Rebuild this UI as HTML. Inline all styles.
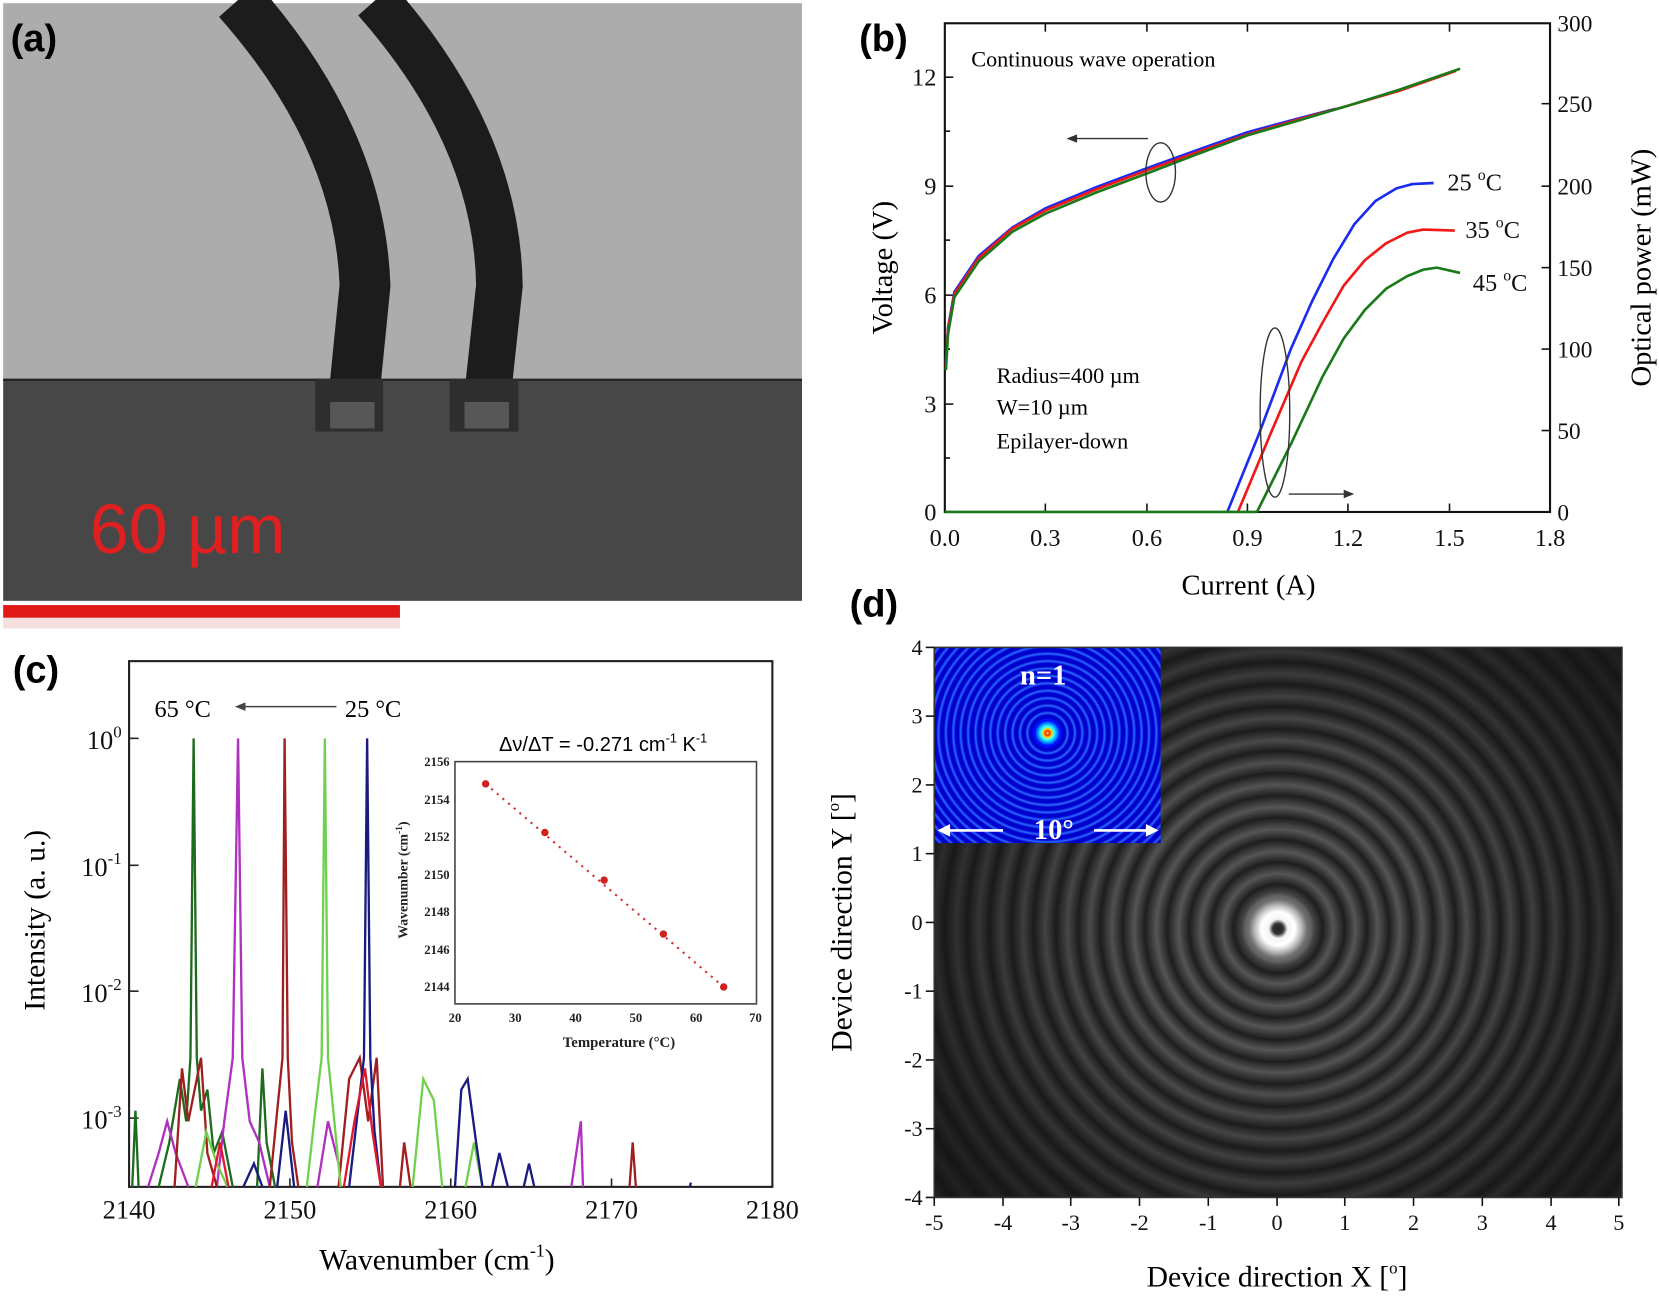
<!DOCTYPE html>
<html><head><meta charset="utf-8"><style>
html,body{margin:0;padding:0;background:#fff;overflow:hidden;width:1659px;height:1299px}
#w{position:absolute;left:0;top:0;width:1568px;height:1228px;transform:scale(1.05804,1.05782);transform-origin:0 0}
.abs{position:absolute}
#rings{left:883px;top:612px;width:650px;height:520px;
background:
radial-gradient(circle at 325px 266px, #222 0, #333 5px, #f4f4f4 9px, #fff 16px, #bbb 22px, #777 27px, rgba(90,90,90,0) 34px),
radial-gradient(ellipse 380px 360px at 325px 266px, rgba(20,20,20,0) 0, rgba(20,20,20,0) 35%, rgba(20,20,20,.8) 100%),
repeating-radial-gradient(circle at 325px 266px, #1e1e1e 0, #555 10px, #1e1e1e 21px);}
#blue{left:883px;top:612px;width:214px;height:185px;
background:
radial-gradient(circle at 107px 81px, #ffff40 0, #ff2000 2px, #ffd000 4px, #40ffff 6px, #00a0ff 9px, #0000ff 12px, rgba(0,0,220,0) 15px),
repeating-radial-gradient(circle at 107px 81px, #0000c8 0, #0000d0 3px, #2a6aff 5px, #0000d0 7px);}
</style></head><body><div id="w">
<svg class="abs" style="left:0;top:0" width="1568" height="1228" viewBox="0 0 1568 1228" font-family="Liberation Serif, serif">
<!-- (a) -->
<rect x="3" y="3" width="755" height="357" fill="#acacac"/>
<rect x="3" y="358" width="755" height="210" fill="#474747"/>
<line x1="3" y1="359" x2="758" y2="359" stroke="#222" stroke-width="2"/>
<path d="M225,0 Q340,130 345,270 L332,400" fill="none" stroke="#1c1c1c" stroke-width="48"/>
<path d="M355,0 Q470,130 472,270 L458,400" fill="none" stroke="#1c1c1c" stroke-width="44"/>
<rect x="298" y="358" width="64" height="50" fill="#2e2e2e"/>
<rect x="425" y="358" width="65" height="50" fill="#2e2e2e"/>
<rect x="312" y="380" width="42" height="25" fill="#6a6a6a" opacity=".7"/>
<rect x="439" y="380" width="42" height="25" fill="#6a6a6a" opacity=".7"/>
<text x="85" y="523" font-family="Liberation Sans, sans-serif" font-size="66" fill="#e02020">60 µm</text>
<rect x="3" y="572" width="375" height="12" fill="#e01818"/>
<rect x="3" y="584" width="375" height="10" fill="#f0c0c0" opacity=".5"/>
<g font-family="Liberation Sans, sans-serif" font-weight="bold" font-size="36">
<text x="10" y="48">(a)</text><text x="812" y="48">(b)</text><text x="12" y="645">(c)</text><text x="803" y="583">(d)</text></g>

<!-- (b) -->
<rect x="893" y="22" width="572" height="462" fill="none" stroke="#111" stroke-width="2"/>
<g stroke="#111" stroke-width="1.5">
<line x1="893" y1="73" x2="901" y2="73"/><line x1="893" y1="176" x2="901" y2="176"/><line x1="893" y1="279" x2="901" y2="279"/><line x1="893" y1="382" x2="901" y2="382"/>
<line x1="893" y1="124" x2="898" y2="124"/><line x1="893" y1="227" x2="898" y2="227"/><line x1="893" y1="330" x2="898" y2="330"/><line x1="893" y1="433" x2="898" y2="433"/>
<line x1="1465" y1="98" x2="1457" y2="98"/><line x1="1465" y1="176" x2="1457" y2="176"/><line x1="1465" y1="253" x2="1457" y2="253"/><line x1="1465" y1="330" x2="1457" y2="330"/><line x1="1465" y1="407" x2="1457" y2="407"/>
<line x1="988" y1="484" x2="988" y2="476"/><line x1="1084" y1="484" x2="1084" y2="476"/><line x1="1179" y1="484" x2="1179" y2="476"/><line x1="1274" y1="484" x2="1274" y2="476"/><line x1="1370" y1="484" x2="1370" y2="476"/>
<line x1="988" y1="22" x2="988" y2="30"/><line x1="1084" y1="22" x2="1084" y2="30"/><line x1="1179" y1="22" x2="1179" y2="30"/><line x1="1274" y1="22" x2="1274" y2="30"/><line x1="1370" y1="22" x2="1370" y2="30"/>
</g>
<g font-size="23" fill="#111" text-anchor="end">
<text x="885" y="81">12</text><text x="885" y="184">9</text><text x="885" y="287">6</text><text x="885" y="390">3</text><text x="885" y="492">0</text></g>
<g font-size="22" fill="#111">
<text x="1472" y="30">300</text><text x="1472" y="106">250</text><text x="1472" y="184">200</text><text x="1472" y="261">150</text><text x="1472" y="338">100</text><text x="1472" y="415">50</text><text x="1472" y="492">0</text></g>
<g font-size="23" fill="#111" text-anchor="middle">
<text x="893" y="516">0.0</text><text x="988" y="516">0.3</text><text x="1084" y="516">0.6</text><text x="1179" y="516">0.9</text><text x="1274" y="516">1.2</text><text x="1370" y="516">1.5</text><text x="1465" y="516">1.8</text></g>
<text x="1180" y="562" font-size="27" text-anchor="middle">Current (A)</text>
<text transform="translate(843,253) rotate(-90)" font-size="27" text-anchor="middle">Voltage (V)</text>
<text transform="translate(1560,253) rotate(-90)" font-size="27" text-anchor="middle">Optical power (mW)</text>
<text x="918" y="63" font-size="21">Continuous wave operation</text>
<text x="942" y="362" font-size="21">Radius=400 µm</text>
<text x="942" y="392" font-size="21">W=10 µm</text>
<text x="942" y="424" font-size="21">Epilayer-down</text>
<g fill="none" stroke-width="2.5" stroke-linejoin="round">
<path d="M894,344 L896,310 L902,276 L925,242 L957,215 L988,197 L1036,177 L1084,159 L1131,142 L1179,125 L1227,112 L1262,103" stroke="#1a2cf0"/>
<path d="M894,346 L896,312 L902,278 L925,244 L957,216 L988,199 L1036,179 L1084,161 L1131,144 L1179,127 L1227,113 L1274,100 L1322,86 L1376,67" stroke="#f01818"/>
<path d="M894,350 L896,316 L902,281 L925,247 L957,219 L988,202 L1036,182 L1084,164 L1131,146 L1179,128 L1227,114 L1274,100 L1322,85 L1380,65" stroke="#1a7a1a"/>
<path d="M1160,484 L1190,410 L1220,330 L1240,285 L1260,245 L1280,212 L1300,190 L1320,178 L1335,174 L1355,173" stroke="#1a2cf0"/>
<path d="M1170,484 L1200,412 L1230,342 L1250,305 L1270,270 L1290,246 L1310,230 L1330,220 L1345,217 L1375,218" stroke="#f01818"/>
<path d="M1188,484 L1220,420 L1250,356 L1270,320 L1290,293 L1310,273 L1330,261 L1345,255 L1358,253 L1380,258" stroke="#1a7a1a"/>
<line x1="893" y1="484" x2="1188" y2="484" stroke="#1a7a1a"/>
</g>
<g fill="none" stroke="#333" stroke-width="1.3">
<ellipse cx="1097" cy="163" rx="14" ry="28"/><line x1="1085" y1="131" x2="1012" y2="131"/>
<ellipse cx="1205" cy="390" rx="14" ry="80"/><line x1="1218" y1="467" x2="1273" y2="467"/></g>
<path d="M1008,131 l10,-4 v8z M1280,467 l-10,-4 v8z" fill="#333"/>
<g font-size="23" fill="#111">
<text x="1368" y="180">25 <tspan font-size="15" dy="-10">o</tspan><tspan dy="10">C</tspan></text>
<text x="1385" y="225">35 <tspan font-size="15" dy="-10">o</tspan><tspan dy="10">C</tspan></text>
<text x="1392" y="275">45 <tspan font-size="15" dy="-10">o</tspan><tspan dy="10">C</tspan></text></g>

<!-- (c) -->
<rect x="122" y="625" width="608" height="497" fill="none" stroke="#222" stroke-width="2"/>
<g stroke="#222" stroke-width="1.5">
<line x1="122" y1="698" x2="131" y2="698"/><line x1="122" y1="818" x2="131" y2="818"/><line x1="122" y1="937" x2="131" y2="937"/><line x1="122" y1="1057" x2="131" y2="1057"/>
<line x1="274" y1="1122" x2="274" y2="1114"/><line x1="426" y1="1122" x2="426" y2="1114"/><line x1="578" y1="1122" x2="578" y2="1114"/>
</g>
<g font-size="25" fill="#111" text-anchor="end">
<text x="115" y="708">10<tspan font-size="16" dy="-11">0</tspan></text>
<text x="115" y="828">10<tspan font-size="16" dy="-11">-1</tspan></text>
<text x="115" y="947">10<tspan font-size="16" dy="-11">-2</tspan></text>
<text x="115" y="1067">10<tspan font-size="16" dy="-11">-3</tspan></text></g>
<g font-size="25" fill="#111" text-anchor="middle">
<text x="122" y="1152">2140</text><text x="274" y="1152">2150</text><text x="426" y="1152">2160</text><text x="578" y="1152">2170</text><text x="730" y="1152">2180</text></g>
<text x="413" y="1200" font-size="28" text-anchor="middle">Wavenumber (cm<tspan font-size="17" dy="-12">-1</tspan><tspan dy="12">)</tspan></text>
<text transform="translate(42,870) rotate(-90)" font-size="28" text-anchor="middle">Intensity (a. u.)</text>
<text x="146" y="678" font-size="23">65 °C</text><text x="326" y="678" font-size="23">25 °C</text>
<line x1="228" y1="668" x2="318" y2="668" stroke="#444" stroke-width="1.5"/><path d="M222,668 l10,-4 v8z" fill="#444"/>
<g fill="none" stroke-width="2.2">
<path d="M125,1122 L128,1050 L131,1122 M150,1122 L160,1080 L170,1020 L176,1060 L180,1000 L183,698 L186,1000 L190,1050 L196,1030 L202,1090 L210,1070 L220,1122 M243,1122 L248,1010 L252,1080 L260,1122" stroke="#1e6b1e"/>
<path d="M140,1122 L150,1090 L158,1060 L166,1090 L178,1122 M205,1122 L212,1060 L220,1000 L225,698 L229,1000 L236,1060 L245,1080 L255,1122 M300,1122 L310,1060 L320,1100 M540,1122 L549,1060 L551,1122" stroke="#b030c0"/>
<path d="M165,1122 L172,1010 L178,1060 L190,1000 L196,1090 L205,1122 M255,1122 L262,1050 L267,1000 L269,698 L272,1000 L276,1080 L282,1122 M320,1122 L330,1020 L340,1000 L348,1060 L356,1000 L362,1122 M378,1122 L382,1080 L388,1122 M595,1122 L598,1080 L601,1122" stroke="#a02020"/>
<path d="M185,1122 L195,1070 L205,1100 L215,1122 M290,1122 L298,1050 L304,1000 L307,698 L310,1000 L316,1060 L322,1122 M390,1122 L400,1020 L410,1040 L418,1122 M440,1122 L448,1080 L456,1122" stroke="#70d050"/>
<path d="M230,1122 L240,1100 L248,1122 M262,1122 L270,1050 L278,1122 M330,1122 L344,1000 L347,698 L350,1000 L354,1070 L360,1122 M430,1122 L436,1030 L442,1020 L450,1080 L456,1122 M465,1122 L472,1090 L480,1122 M495,1122 L500,1100 L505,1122 M652,1122 L653,1118" stroke="#1a1a80"/>
<path d="M325,1122 L335,1060 L345,1010 L352,1070 L360,1122 M200,1122 L208,1080 L216,1122" stroke="#e01830"/>
</g>
<rect x="430" y="720" width="285" height="229" fill="#fff" stroke="#444" stroke-width="1.5"/>
<text x="570" y="710" font-family="Liberation Sans, sans-serif" font-size="19" text-anchor="middle">Δν/ΔT = -0.271 cm<tspan font-size="12" dy="-8">-1</tspan><tspan dy="8"> K</tspan><tspan font-size="12" dy="-8">-1</tspan></text>
<g font-size="12" font-weight="bold" fill="#222">
<g text-anchor="end"><text x="425" y="724">2156</text><text x="425" y="760">2154</text><text x="425" y="795">2152</text><text x="425" y="831">2150</text><text x="425" y="866">2148</text><text x="425" y="902">2146</text><text x="425" y="937">2144</text></g>
<g text-anchor="middle"><text x="430" y="966">20</text><text x="487" y="966">30</text><text x="544" y="966">40</text><text x="601" y="966">50</text><text x="658" y="966">60</text><text x="714" y="966">70</text></g>
<text x="585" y="990" text-anchor="middle" font-size="14">Temperature (°C)</text>
<text transform="translate(385,832) rotate(-90)" text-anchor="middle" font-size="13">Wavenumber (cm<tspan font-size="9" dy="-5">-1</tspan><tspan dy="5">)</tspan></text></g>
<line x1="459" y1="741" x2="684" y2="933" stroke="#d03030" stroke-width="2" stroke-dasharray="2,5"/>
<g fill="#d02020"><circle cx="459" cy="741" r="3.5"/><circle cx="515" cy="787" r="3.5"/><circle cx="571" cy="832" r="3.5"/><circle cx="627" cy="883" r="3.5"/><circle cx="684" cy="933" r="3.5"/></g>

<!-- (d) axes -->
<g font-size="21" fill="#111" text-anchor="end">
<text x="872" y="619">4</text><text x="872" y="684">3</text><text x="872" y="749">2</text><text x="872" y="814">1</text><text x="872" y="879">0</text><text x="872" y="944">-1</text><text x="872" y="1009">-2</text><text x="872" y="1074">-3</text><text x="872" y="1139">-4</text></g>
<g font-size="21" fill="#111" text-anchor="middle">
<text x="883" y="1163">-5</text><text x="948" y="1163">-4</text><text x="1012" y="1163">-3</text><text x="1077" y="1163">-2</text><text x="1142" y="1163">-1</text><text x="1207" y="1163">0</text><text x="1271" y="1163">1</text><text x="1336" y="1163">2</text><text x="1401" y="1163">3</text><text x="1466" y="1163">4</text><text x="1530" y="1163">5</text></g>
<text x="1207" y="1216" font-size="28" text-anchor="middle">Device direction X [<tspan font-size="16" dy="-12">o</tspan><tspan dy="12">]</tspan></text>
<text transform="translate(805,872) rotate(-90)" font-size="28" text-anchor="middle">Device direction Y [<tspan font-size="16" dy="-12">o</tspan><tspan dy="12">]</tspan></text>
</svg>
<div id="rings" class="abs"></div>
<div id="blue" class="abs"></div>
<svg class="abs" style="left:0;top:0" width="1568" height="1228" viewBox="0 0 1568 1228" font-family="Liberation Serif, serif">
<rect x="883" y="612" width="650" height="520" fill="none" stroke="#333" stroke-width="1.5"/>
<text x="986" y="647" font-size="27" font-weight="bold" fill="#fff" text-anchor="middle">n=1</text>
<text x="996" y="793" font-size="27" font-weight="bold" fill="#fff" text-anchor="middle">10°</text>
<g stroke="#fff" stroke-width="2.5"><line x1="892" y1="785" x2="948" y2="785"/><line x1="1034" y1="785" x2="1090" y2="785"/></g>
<path d="M886,785 l12,-6 v12z M1095,785 l-12,-6 v12z" fill="#fff"/>
<g stroke="#111" stroke-width="1.5">
<line x1="883" y1="1132" x2="883" y2="1140"/><line x1="948" y1="1132" x2="948" y2="1140"/><line x1="1012" y1="1132" x2="1012" y2="1140"/><line x1="1077" y1="1132" x2="1077" y2="1140"/><line x1="1142" y1="1132" x2="1142" y2="1140"/><line x1="1207" y1="1132" x2="1207" y2="1140"/><line x1="1271" y1="1132" x2="1271" y2="1140"/><line x1="1336" y1="1132" x2="1336" y2="1140"/><line x1="1401" y1="1132" x2="1401" y2="1140"/><line x1="1466" y1="1132" x2="1466" y2="1140"/><line x1="1530" y1="1132" x2="1530" y2="1140"/>
<line x1="875" y1="612" x2="883" y2="612"/><line x1="875" y1="677" x2="883" y2="677"/><line x1="875" y1="742" x2="883" y2="742"/><line x1="875" y1="807" x2="883" y2="807"/><line x1="875" y1="872" x2="883" y2="872"/><line x1="875" y1="937" x2="883" y2="937"/><line x1="875" y1="1002" x2="883" y2="1002"/><line x1="875" y1="1067" x2="883" y2="1067"/><line x1="875" y1="1132" x2="883" y2="1132"/>
</g>
</svg>
</div></body></html>
